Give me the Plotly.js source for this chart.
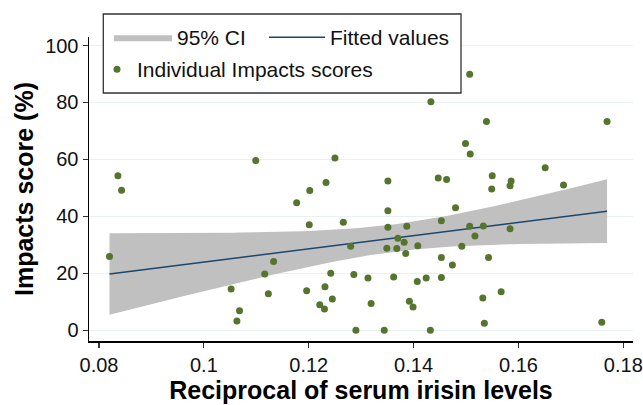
<!DOCTYPE html>
<html>
<head>
<meta charset="utf-8">
<script src="https://cdn.plot.ly/plotly-3.0.1.min.js"></script>
<style>html,body{margin:0;padding:0;background:#fff;}#chart{width:643px;height:405px;}</style>
</head>
<body>
<div id="chart"></div>
<script>
// Individual observations (reciprocal of serum irisin, Impacts score %)
const irisinRecip = [0.0820, 0.0836, 0.0843, 0.1052, 0.1063, 0.1068, 0.1099, 0.1116, 0.1123, 0.1133,
  0.1177, 0.1196, 0.1201, 0.1202, 0.1221, 0.1230, 0.1231, 0.1233, 0.1242, 0.1245,
  0.1250, 0.1266, 0.1280, 0.1286, 0.1290, 0.1313, 0.1319, 0.1344, 0.1349, 0.1351,
  0.1351, 0.1351, 0.1362, 0.1368, 0.1370, 0.1382, 0.1385, 0.1387, 0.1392, 0.1399,
  0.1407, 0.1408, 0.1424, 0.1432, 0.1433, 0.1447, 0.1453, 0.1453, 0.1453, 0.1463,
  0.1474, 0.1480, 0.1492, 0.1499, 0.1507, 0.1507, 0.1508, 0.1517, 0.1532, 0.1533,
  0.1535, 0.1539, 0.1543, 0.1549, 0.1550, 0.1567, 0.1584, 0.1584, 0.1586, 0.1651,
  0.1686, 0.1759, 0.1769];
const impactsScore = [25.9, 54.3, 49.2, 14.5, 3.3, 6.9, 59.6, 19.8, 12.8, 24.2,
  44.8, 13.9, 37.1, 49.1, 9.0, 7.5, 15.3, 51.9, 20.0, 11.0,
  60.5, 37.9, 29.5, 19.6, 0, 18.4, 9.4, 0, 28.8, 42.0,
  36.2, 52.4, 18.7, 28.7, 32.3, 30.9, 27.0, 36.5, 10.2, 8.2,
  17.1, 29.7, 18.4, 0, 80.3, 53.5, 38.5, 25.6, 18.5, 53.0,
  22.9, 43.0, 29.5, 65.6, 89.9, 36.5, 61.9, 33.1, 11.3, 36.6,
  2.5, 73.3, 25.6, 49.6, 54.3, 13.5, 35.7, 50.8, 52.4, 57.1,
  51.0, 2.8, 73.3];

const xTickVals = [0.08, 0.10, 0.12, 0.14, 0.16, 0.18];
const xTickText = ["0.08", "0.1", "0.12", "0.14", "0.16", "0.18"];
const yTickVals = [0, 20, 40, 60, 80, 100];
const yTickText = ["0", "20", "40", "60", "80", "100"];

// Linear fit with 95% CI of the mean (computed from the observations)
const n = irisinRecip.length;
const mx = irisinRecip.reduce((a, b) => a + b, 0) / n;
const my = impactsScore.reduce((a, b) => a + b, 0) / n;
let sxx = 0, sxy = 0;
for (let i = 0; i < n; i++) { sxx += (irisinRecip[i] - mx) ** 2; sxy += (irisinRecip[i] - mx) * (impactsScore[i] - my); }
const slope = sxy / sxx, intercept = my - slope * mx;
let sse = 0;
for (let i = 0; i < n; i++) { const r = impactsScore[i] - (intercept + slope * irisinRecip[i]); sse += r * r; }
const s = Math.sqrt(sse / (n - 2));
const tCrit = 1.9939;
const xmin = Math.min(...irisinRecip), xmax = Math.max(...irisinRecip);
const gx = [], gy = [], lo = [], hi = [];
const steps = 80;
for (let k = 0; k <= steps; k++) {
  const x = xmin + (xmax - xmin) * k / steps;
  const yh = intercept + slope * x;
  const se = s * Math.sqrt(1 / n + (x - mx) ** 2 / sxx);
  gx.push(x); gy.push(yh); lo.push(yh - tCrit * se); hi.push(yh + tCrit * se);
}
const bandX = gx.concat(gx.slice().reverse());
const bandY = hi.concat(lo.slice().reverse());

const FONT = "Liberation Sans, Arial, Helvetica, sans-serif";
const W = 544, H = 304, L = 89, T = 37;
const px = v => (v - L) / W;
const py = v => (T + H - v) / H;

const traces = [
  { x: bandX, y: bandY, type: "scatter", mode: "lines", fill: "toself",
    fillcolor: "#c0c0c0", line: { color: "#c0c0c0", width: 0 }, name: "95% CI",
    legend: "legend", hoverinfo: "skip" },
  { x: gx, y: gy, type: "scatter", mode: "lines", line: { color: "#1a476f", width: 1.5 },
    name: "Fitted values", legend: "legend2" },
  { x: irisinRecip, y: impactsScore, type: "scatter", mode: "markers",
    marker: { color: "#55752f", size: 7 }, name: "Individual Impacts scores", legend: "legend3" }
];

const legBase = { orientation: "h", xanchor: "left", yanchor: "top", bgcolor: "rgba(0,0,0,0)",
  borderwidth: 0, font: { family: FONT, size: 21, color: "#111" } };

const layout = {
  width: 643, height: 405,
  margin: { l: L, r: 643 - L - W, t: T, b: 405 - T - H, autoexpand: false },
  paper_bgcolor: "#fff", plot_bgcolor: "#fff",
  font: { family: FONT, size: 20, color: "#111" },
  showlegend: true,
  legend: Object.assign({}, legBase, { x: px(109), y: py(17), itemwidth: 58 }),
  legend2: Object.assign({}, legBase, { x: px(264), y: py(17), itemwidth: 56 }),
  legend3: Object.assign({}, legBase, { x: px(97), y: py(49), itemwidth: 30 }),
  xaxis: {
    range: [0.07809, 0.18185], tickvals: xTickVals, ticktext: xTickText,
    showgrid: false, zeroline: false, showline: true, linecolor: "#000", linewidth: 1.5,
    ticks: "outside", ticklen: 5, tickcolor: "#333", tickwidth: 1.2,
    tickfont: { family: FONT, size: 20, color: "#111" },
    title: { text: "<b>Reciprocal of serum irisin levels</b>", font: { family: FONT, size: 25, color: "#000" }, standoff: 6 }
  },
  yaxis: {
    range: [-3.76, 103], tickvals: yTickVals, ticktext: yTickText,
    showgrid: true, gridcolor: "#e9f0f1", gridwidth: 1.2, zeroline: false,
    showline: true, linecolor: "#000", linewidth: 1.5,
    ticks: "outside", ticklen: 5, tickcolor: "#333", tickwidth: 1.2,
    tickfont: { family: FONT, size: 20, color: "#111" },
    title: { text: "<b>Impacts score (%)</b>", font: { family: FONT, size: 25, color: "#000" }, standoff: 4 }
  },
  shapes: [{ type: "rect", xref: "paper", yref: "paper", layer: "above",
    x0: px(103.3), x1: px(461), y0: py(93), y1: py(14),
    fillcolor: "#fff", line: { color: "#333", width: 1.3 } }]
};

Plotly.newPlot("chart", traces, layout, { displayModeBar: false, staticPlot: true });
</script>
</body>
</html>
